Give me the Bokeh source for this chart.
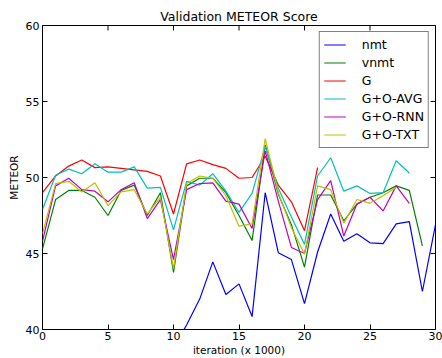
import math

from bokeh.plotting import figure
from bokeh.models import Legend, LegendItem, Range1d, FixedTicker
from bokeh.embed import file_html
from bokeh.resources import INLINE

# iteration index (x 1000)
iters = list(range(31))

# METEOR scores per model
nmt_start = 10
nmt = [38.8, 40.3, 42.0, 44.45, 42.3, 43.0, 40.85, 49.0, 45.05, 44.6, 41.7,
       45.1, 47.6, 45.8, 46.3, 45.7, 45.65, 46.95, 47.1, 42.5, 46.9]
vnmt = [45.3, 48.55, 49.15, 49.15, 48.7, 47.5, 49.15, 49.5, 47.5, 49.0, 43.75,
        49.45, 49.95, 49.95, 49.0, 47.5, 45.85, 52.15, 48.9, 46.9, 44.1,
        48.85, 48.85, 47.15, 48.25, 48.7, 49.0, 49.45, 49.15, 45.5]
g = [49.0, 50.1, 50.75, 51.15, 50.65, 50.7, 50.6, 50.5, 50.4, 50.1, 47.6,
     50.9, 51.15, 50.85, 50.6, 49.95, 50.0, 51.4, 49.5, 48.4, 46.5, 50.65]
g_avg = [47.9, 50.15, 50.55, 50.25, 50.9, 50.35, 50.35, 50.7, 49.3, 49.35, 46.55,
         49.75, 49.5, 50.25, 49.1, 47.7, 48.95, 52.05, 49.3, 47.4, 45.6,
         50.1, 51.3, 49.1, 49.45, 48.95, 49.0, 51.1, 50.3]
g_rnn = [45.8, 49.45, 49.95, 49.2, 49.1, 48.4, 49.2, 49.65, 47.3, 48.55, 44.6,
         49.2, 49.6, 49.65, 48.45, 48.25, 46.65, 51.75, 48.45, 45.4, 45.0,
         48.55, 49.8, 46.15, 48.25, 48.7, 47.8, 49.45, 48.3]
g_txt = [46.3, 49.6, 49.75, 49.05, 49.65, 48.15, 49.05, 49.2, 47.6, 48.7, 44.0,
         49.6, 50.1, 49.95, 48.8, 46.8, 46.95, 52.55, 49.0, 46.7, 44.95,
         49.45, 49.2, 47.0, 48.55, 48.3, 48.8, 49.35]

x_ticks = [0, 5, 10, 15, 20, 25, 30]
y_ticks = [40, 45, 50, 55, 60]

series = [
    ("nmt", iters[nmt_start:nmt_start + len(nmt)], nmt, "#0000ff"),
    ("vnmt", iters[:len(vnmt)], vnmt, "#008000"),
    ("G", iters[:len(g)], g, "#ff0000"),
    ("G+O-AVG", iters[:len(g_avg)], g_avg, "#00bfbf"),
    ("G+O-RNN", iters[:len(g_rnn)], g_rnn, "#bf00bf"),
    ("G+O-TXT", iters[:len(g_txt)], g_txt, "#bfbf00"),
]

FONT = "DejaVu Sans"

p = figure(width=442, height=358, output_backend="svg", toolbar_location=None,
           x_range=Range1d(0, 30), y_range=Range1d(40, 60),
           min_border_left=42, min_border_right=7,
           min_border_top=25, min_border_bottom=29,
           background_fill_color="white", border_fill_color="white")

p.title.text = "Validation METEOR Score"
p.title.align = "center"
p.title.text_font = FONT
p.title.text_font_size = "12.5px"
p.title.text_font_style = "normal"
p.title.text_color = "black"
p.title.standoff = 3

p.xgrid.visible = False
p.ygrid.visible = False
p.outline_line_color = "black"
p.outline_line_width = 1
p.outline_line_alpha = 1

for ax, ticks in ((p.xaxis[0], x_ticks), (p.yaxis[0], y_ticks)):
    ax.ticker = FixedTicker(ticks=ticks)
    ax.major_tick_in = 5
    ax.major_tick_out = 0
    ax.minor_tick_in = 0
    ax.minor_tick_out = 0
    ax.major_tick_line_color = "black"
    ax.axis_line_color = None
    ax.major_label_text_font = FONT
    ax.major_label_text_font_size = "11px"
    ax.major_label_text_color = "black"
    ax.axis_label_text_font = FONT
    ax.axis_label_text_font_size = "10.5px"
    ax.axis_label_text_font_style = "normal"
    ax.axis_label_text_color = "black"

p.xaxis.axis_label = "iteration (x 1000)"
p.yaxis.axis_label = "METEOR"
p.xaxis.major_label_standoff = 2
p.xaxis.axis_label_standoff = 1
p.yaxis.major_label_standoff = 3
p.yaxis.axis_label_standoff = 3

# inward tick marks along the top and right edges of the frame
p.scatter(x_ticks, [p.y_range.end] * len(x_ticks), marker="dash", angle=math.pi / 2,
          size=10, line_color="black", line_width=1)
p.scatter([p.x_range.end] * len(y_ticks), y_ticks, marker="dash",
          size=10, line_color="black", line_width=1)

items = []
for name, xs, ys, color in series:
    r = p.line(xs, ys, line_color=color, line_width=1.2)
    items.append(LegendItem(label=name, renderers=[r]))

legend = Legend(items=items, location="top_right",
                border_line_color="black", border_line_width=1,
                background_fill_color="white", background_fill_alpha=1,
                label_text_font=FONT, label_text_font_size="12.5px",
                label_text_color="black",
                glyph_width=22, glyph_height=17, label_height=17,
                spacing=1, padding=4, margin=6, label_standoff=16)
p.add_layout(legend)

open("out.html", "w").write(file_html(p, INLINE))
